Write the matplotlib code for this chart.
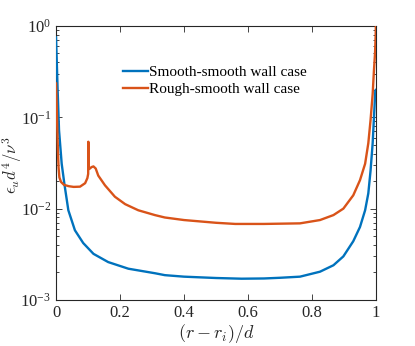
import matplotlib
matplotlib.use('Agg')
import matplotlib.pyplot as plt
from matplotlib.ticker import LogLocator, NullFormatter

plt.rcParams['font.family'] = ['Liberation Serif', 'DejaVu Serif']
plt.rcParams['mathtext.fontset'] = 'stix'

# Smooth-smooth wall case
x_smooth = [0.0, 0.002, 0.005, 0.0094, 0.0177, 0.026, 0.0385, 0.059, 0.085, 0.117,
            0.163, 0.226, 0.31, 0.34, 0.4, 0.5, 0.58, 0.65, 0.7, 0.7625,
            0.825, 0.867, 0.898, 0.929, 0.95, 0.966, 0.976, 0.983, 0.9896, 0.9937,
            0.998, 1.0]
y_smooth = [0.75, 0.45, 0.2, 0.072, 0.031, 0.0188, 0.0096, 0.0058, 0.0042, 0.0032,
            0.0026, 0.0022, 0.00196, 0.00187, 0.0018, 0.00174, 0.00171, 0.00172, 0.00175, 0.0018,
            0.00204, 0.0024, 0.003, 0.0044, 0.0063, 0.0096, 0.0147, 0.026, 0.052, 0.1,
            0.197, 0.2]

# Rough-smooth wall case
x_rough = [0.0, 0.002, 0.004, 0.006, 0.008, 0.0105, 0.0156, 0.025, 0.04, 0.055,
           0.075, 0.091, 0.098, 0.1005, 0.101, 0.1013, 0.106, 0.111, 0.117, 0.124,
           0.132, 0.153, 0.184, 0.216, 0.257, 0.309, 0.34, 0.4, 0.5, 0.56,
           0.65, 0.7625, 0.825, 0.867, 0.898, 0.929, 0.95, 0.966, 0.976, 0.983,
           0.9896, 0.9937, 0.997, 0.999, 1.0]
y_rough = [0.235, 0.14, 0.075, 0.042, 0.028, 0.022, 0.0196, 0.0182, 0.0176, 0.0173,
           0.0174, 0.019, 0.0216, 0.024, 0.054, 0.027, 0.0275, 0.0285, 0.029, 0.0275,
           0.023, 0.018, 0.0135, 0.0112, 0.0096, 0.0085, 0.008, 0.0075, 0.007, 0.0068,
           0.0068, 0.0069, 0.0075, 0.0085, 0.01, 0.014, 0.0205, 0.031, 0.052, 0.093,
           0.18, 0.33, 0.5, 0.8, 1.2]

labels = ['Smooth-smooth wall case', 'Rough-smooth wall case']
colors = ['#0072BD', '#D95319']

fig = plt.figure(figsize=(4.15, 3.46), dpi=100)
ax = fig.add_axes([0.135, 0.133, 0.771, 0.792])

# draw curves on top of the spines, like the original
ax.plot(x_smooth, y_smooth, color=colors[0], lw=1.7, label=labels[0], zorder=3)
ax.plot(x_rough, y_rough, color=colors[1], lw=1.7, label=labels[1], zorder=3)

ax.set_yscale('log')
ax.set_xlim(0, 1)
ax.set_ylim(1e-3, 1)
ax.set_xticks([0, 0.2, 0.4, 0.6, 0.8, 1])
ax.set_xticklabels(['0', '0.2', '0.4', '0.6', '0.8', '1'])
ax.yaxis.set_major_locator(LogLocator(base=10, numticks=10))
ax.yaxis.set_minor_locator(LogLocator(base=10, subs=range(2, 10), numticks=10))
ax.yaxis.set_minor_formatter(NullFormatter())

ax.tick_params(which='both', direction='in', top=True, right=True,
               colors='#262626', labelcolor='#262626', labelsize=12, width=0.6)
ax.tick_params(which='major', length=4)
ax.tick_params(which='minor', length=2)
for s in ax.spines.values():
    s.set_color('#262626')
    s.set_linewidth(0.8)

ax.set_xlabel(r'$(r-r_i)/d$', fontsize=13, labelpad=1, color='#262626',
              math_fontfamily='cm')
ax.set_ylabel(r'$\epsilon_u d^4/\nu^3$', fontsize=12, color='#262626',
              math_fontfamily='cm')
ax.yaxis.set_label_coords(-0.1, 0.49)

ax.legend(loc='upper left', bbox_to_anchor=(0.21, 0.855), frameon=False,
          fontsize=11, handlelength=1.6, handletextpad=0.1, labelspacing=0.2,
          borderpad=0, borderaxespad=0)

fig.savefig('out.png', dpi=100)
